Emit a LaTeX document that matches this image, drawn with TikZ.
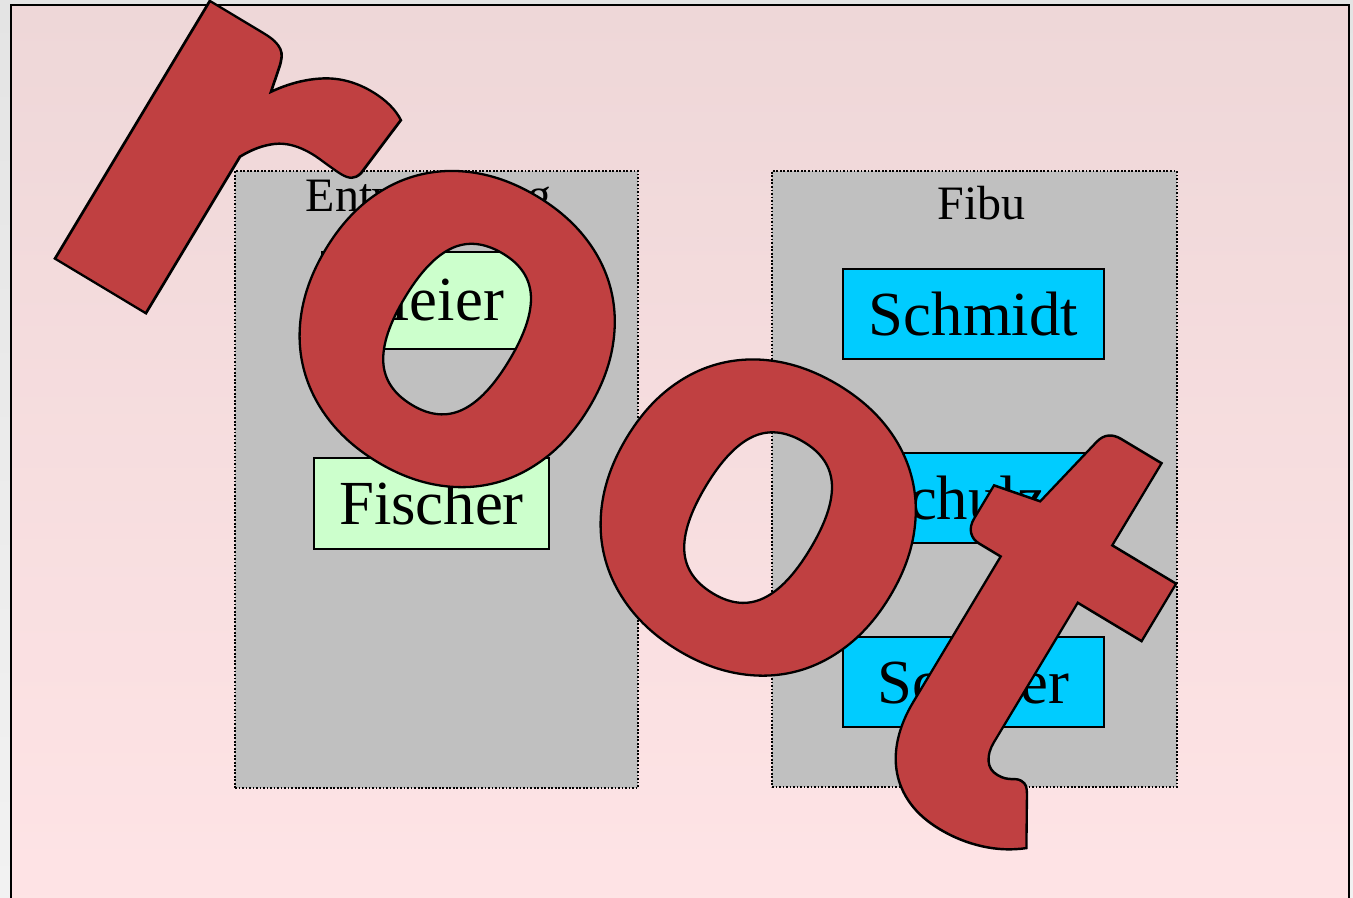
\documentclass[tikz,border=0pt]{standalone}
\usepackage{fontspec}
\setmainfont{Liberation Serif}
\IfFontExistsTF{Lato Black}{\newfontfamily\rootfont{Lato Black}}{\newfontfamily\rootfont{Liberation Sans Bold}}
\usetikzlibrary{positioning}

\definecolor{outertop}{RGB}{228,228,228}
\definecolor{outerbot}{RGB}{242,242,242}
\definecolor{bgtop}{RGB}{238,215,216}
\definecolor{bgbot}{RGB}{255,228,230}
\definecolor{groupgray}{RGB}{192,192,192}
\definecolor{devgreen}{RGB}{204,255,204}
\definecolor{fibucyan}{RGB}{0,204,255}
\definecolor{rootred}{RGB}{192,64,65}

% red letters with a black rim
\newcommand\rimmed[1]{\special{pdf:code 0 0 0 RG 2 Tr 1.3 w}#1\special{pdf:code 0 Tr}}

\tikzset{
  groupbox/.style={fill=groupgray, draw=black, line width=0.8pt, dash pattern=on 1pt off 1pt, inner sep=0pt},
  grouplabel/.style={inner sep=0pt, font=\fontsize{27.3}{30}\selectfont},
  namebox/.style={draw=black, line width=0.85pt, inner sep=0pt, font=\fontsize{35.7}{40}\selectfont},
  rootletter/.style={inner sep=0pt, rotate=-31, text=rootred, font=\rootfont\fontsize{330}{330}\selectfont}
}

\begin{document}
\begin{tikzpicture}
\useasboundingbox (0,0) rectangle (27.06,-17.94);
\fill[top color=outertop, bottom color=outerbot] (0,0) rectangle (27.06,-17.94);
\draw[top color=bgtop, middle color=bgbot, bottom color=bgbot, draw=black, line width=1.1pt] (0.22,-0.1) rectangle (26.98,-18.6);

% groups
\node[groupbox, minimum width=8.06cm, minimum height=12.34cm] (entw) at (8.73,-9.59) {};
\node[grouplabel, below=0.16cm of entw.north, xshift=-0.16cm] (entwlabel) {Entwicklung};
\node[groupbox, minimum width=8.1cm, minimum height=12.32cm] (fibu) at (19.49,-9.58) {};
\node[grouplabel, below=0.32cm of fibu.north, xshift=0.14cm] (fibulabel) {Fibu};

% people
\node[namebox, fill=devgreen, minimum width=4.28cm, minimum height=1.94cm] (meier) at (8.58,-6.01) {Meier};
\node[namebox, fill=devgreen, minimum width=4.7cm, minimum height=1.82cm] (fischer) at (8.63,-10.07) {Fischer};
\node[namebox, fill=fibucyan, minimum width=5.22cm, minimum height=1.8cm] (schmidt) at (19.47,-6.28) {Schmidt};
\node[namebox, fill=fibucyan, minimum width=5.22cm, minimum height=1.8cm] (schulze) at (19.47,-9.96) {Schulze};
\node[namebox, fill=fibucyan, minimum width=5.22cm, minimum height=1.8cm] (schaefer) at (19.47,-13.64) {Schäfer};

% root
\node[rootletter, xscale=1.18] (rootr) at (4.30,-3.52) {\rimmed{r}};
\node[rootletter] (rooto) at (9.14,-6.58) {\rimmed{o}};
\node[rootletter] (rootoo) at (15.16,-10.35) {\rimmed{o}};
\node[rootletter, yscale=1.09] (roott) at (20.54,-12.64) {\rimmed{t}};
\end{tikzpicture}
\end{document}
